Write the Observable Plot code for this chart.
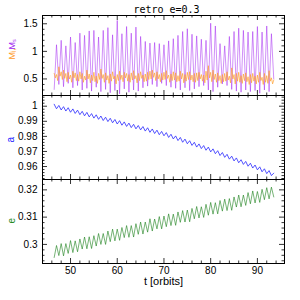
<!DOCTYPE html>
<html><head><meta charset="utf-8">
<script src="https://cdn.jsdelivr.net/npm/d3@7"></script>
<script src="https://cdn.jsdelivr.net/npm/@observablehq/plot@0.6"></script>
<style>
body{margin:0;background:#fff;}
#chart{position:relative;width:300px;height:300px;font-family:"Liberation Sans",Arial,sans-serif;}
#chart svg{position:absolute;left:0;overflow:visible;background:transparent;}
</style></head><body><div id="chart"></div>
<script>
// ---- data ----
const tHalf = [46.5,47,47.5,48,48.5,49,49.5,50,50.5,51,51.5,52,52.5,53,53.5,54,54.5,55,55.5,56,56.5,57,57.5,58,58.5,59,59.5,60,60.5,61,61.5,62,62.5,63,63.5,64,64.5,65,65.5,66,66.5,67,67.5,68,68.5,69,69.5,70,70.5,71,71.5,72,72.5,73,73.5,74,74.5,75,75.5,76,76.5,77,77.5,78,78.5,79,79.5,80,80.5,81,81.5,82,82.5,83,83.5,84,84.5,85,85.5,86,86.5,87,87.5,88,88.5,89,89.5,90,90.5,91,91.5,92,92.5,93,93.5];
const tQuarter = [46.5,46.75,47,47.25,47.5,47.75,48,48.25,48.5,48.75,49,49.25,49.5,49.75,50,50.25,50.5,50.75,51,51.25,51.5,51.75,52,52.25,52.5,52.75,53,53.25,53.5,53.75,54,54.25,54.5,54.75,55,55.25,55.5,55.75,56,56.25,56.5,56.75,57,57.25,57.5,57.75,58,58.25,58.5,58.75,59,59.25,59.5,59.75,60,60.25,60.5,60.75,61,61.25,61.5,61.75,62,62.25,62.5,62.75,63,63.25,63.5,63.75,64,64.25,64.5,64.75,65,65.25,65.5,65.75,66,66.25,66.5,66.75,67,67.25,67.5,67.75,68,68.25,68.5,68.75,69,69.25,69.5,69.75,70,70.25,70.5,70.75,71,71.25,71.5,71.75,72,72.25,72.5,72.75,73,73.25,73.5,73.75,74,74.25,74.5,74.75,75,75.25,75.5,75.75,76,76.25,76.5,76.75,77,77.25,77.5,77.75,78,78.25,78.5,78.75,79,79.25,79.5,79.75,80,80.25,80.5,80.75,81,81.25,81.5,81.75,82,82.25,82.5,82.75,83,83.25,83.5,83.75,84,84.25,84.5,84.75,85,85.25,85.5,85.75,86,86.25,86.5,86.75,87,87.25,87.5,87.75,88,88.25,88.5,88.75,89,89.25,89.5,89.75,90,90.25,90.5,90.75,91,91.25,91.5,91.75,92,92.25,92.5,92.75,93,93.25,93.5];
const Ms = [0.31,1.12,0.40,1.20,0.36,1.10,0.42,1.26,0.34,1.16,0.38,1.33,0.30,1.29,0.33,1.37,0.28,1.38,0.35,1.26,0.27,1.38,0.31,1.43,0.25,1.30,0.29,1.56,0.23,1.32,0.32,1.45,0.26,1.33,0.30,1.44,0.28,1.27,0.34,1.18,0.37,1.15,0.40,1.16,0.36,1.14,0.42,1.12,0.38,1.19,0.35,1.23,0.33,1.29,0.30,1.36,0.34,1.41,0.29,1.31,0.32,1.28,0.36,1.22,0.38,1.20,0.30,1.51,0.27,1.46,0.35,1.14,0.41,1.10,0.38,1.27,0.31,1.36,0.28,1.42,0.26,1.38,0.30,1.35,0.27,1.36,0.29,1.45,0.24,1.35,0.30,1.46,0.27,1.32,0.50];
const Mi = [0.60,0.52,0.58,0.47, 0.72,0.55,0.63,0.49, 0.66,0.51,0.60,0.45, 0.62,0.50,0.57,0.44, 0.64,0.52,0.61,0.47, 0.58,0.46,0.63,0.50, 0.60,0.44,0.55,0.48, 0.66,0.50,0.59,0.43, 0.57,0.47,0.62,0.45, 0.55,0.42,0.60,0.49, 0.68,0.51,0.58,0.44, 0.61,0.48,0.56,0.42, 0.59,0.46,0.63,0.50, 0.55,0.41,0.58,0.47, 0.64,0.49,0.57,0.45, 0.62,0.52,0.60,0.46, 0.58,0.44,0.61,0.48, 0.65,0.50,0.56,0.43, 0.60,0.47,0.63,0.51, 0.57,0.45,0.59,0.46, 0.62,0.49,0.64,0.50, 0.66,0.53,0.61,0.47, 0.63,0.50,0.58,0.45, 0.60,0.48,0.62,0.49, 0.65,0.51,0.57,0.44, 0.59,0.47,0.63,0.48, 0.61,0.45,0.56,0.46, 0.64,0.50,0.60,0.43, 0.58,0.46,0.62,0.49, 0.63,0.48,0.57,0.45, 0.60,0.44,0.61,0.47, 0.62,0.50,0.58,0.46, 0.57,0.43,0.64,0.48, 0.74,0.52,0.62,0.45, 0.66,0.49,0.59,0.44, 0.61,0.47,0.56,0.42, 0.58,0.45,0.60,0.46, 0.63,0.48,0.55,0.43, 0.70,0.50,0.58,0.41, 0.60,0.46,0.62,0.44, 0.56,0.42,0.59,0.47, 0.61,0.45,0.54,0.40, 0.58,0.43,0.60,0.46, 0.55,0.41,0.57,0.44, 0.62,0.47,0.53,0.40, 0.60,0.44,0.56,0.42, 0.65,0.46,0.52,0.41, 0.48];
const aVals = [1.0013,0.9983,1.0005,0.9975,0.9997,0.9968,0.9990,0.9960,0.9982,0.9952,0.9974,0.9944,0.9966,0.9936,0.9959,0.9929,0.9951,0.9921,0.9943,0.9913,0.9935,0.9905,0.9927,0.9898,0.9920,0.9890,0.9912,0.9882,0.9904,0.9874,0.9896,0.9866,0.9888,0.9858,0.9880,0.9850,0.9872,0.9843,0.9865,0.9835,0.9857,0.9827,0.9849,0.9819,0.9841,0.9811,0.9833,0.9804,0.9825,0.9793,0.9814,0.9783,0.9803,0.9772,0.9793,0.9761,0.9782,0.9751,0.9771,0.9740,0.9761,0.9729,0.9750,0.9719,0.9739,0.9708,0.9729,0.9697,0.9717,0.9685,0.9705,0.9673,0.9693,0.9661,0.9681,0.9649,0.9669,0.9637,0.9657,0.9625,0.9645,0.9614,0.9634,0.9602,0.9622,0.9590,0.9610,0.9578,0.9598,0.9565,0.9585,0.9553,0.9573,0.9540,0.9556];
const eVals = [0.2952,0.2996,0.2959,0.3003,0.2958,0.3003,0.2967,0.3014,0.2970,0.3013,0.2973,0.3020,0.2983,0.3027,0.2984,0.3028,0.2985,0.3032,0.2994,0.3040,0.3000,0.3040,0.3000,0.3049,0.3010,0.3056,0.3013,0.3056,0.3015,0.3062,0.3025,0.3069,0.3026,0.3069,0.3027,0.3076,0.3037,0.3082,0.3038,0.3082,0.3045,0.3094,0.3049,0.3093,0.3057,0.3102,0.3057,0.3104,0.3065,0.3112,0.3069,0.3111,0.3070,0.3119,0.3081,0.3124,0.3082,0.3126,0.3083,0.3132,0.3094,0.3139,0.3097,0.3138,0.3099,0.3147,0.3107,0.3154,0.3111,0.3153,0.3112,0.3161,0.3122,0.3166,0.3124,0.3168,0.3125,0.3174,0.3137,0.3181,0.3138,0.3181,0.3143,0.3190,0.3149,0.3196,0.3152,0.3194,0.3154,0.3202,0.3164,0.3208,0.3167,0.3210,0.3174];

// tick values
const xMajorTicks = [50,60,70,80,90];
const xMinorTicks = [46,48,52,54,56,58,62,64,66,68,72,74,76,78,82,84,86,88,92,94];
const y1Major = [0.5,1,1.5];
const y1Minor = [0.3,0.4,0.6,0.7,0.8,0.9,1.1,1.2,1.3,1.4,1.6];
const y2Major = [0.96,0.97,0.98,0.99,1];
const y2Minor = [0.952,0.954,0.956,0.958,0.962,0.964,0.966,0.968,0.972,0.974,0.976,0.978,0.982,0.984,0.986,0.988,0.992,0.994,0.996,0.998,1.002,1.004,1.006];
const y3Major = [0.3,0.31,0.32];
const y3Minor = [0.294,0.296,0.298,0.302,0.304,0.306,0.308,0.312,0.314,0.316,0.318,0.322,0.324];

const title = "retro e=0.3";
const xLabel = "t [orbits]";

// ---- tables ----
const zip = (ts, vs) => vs.slice(0, Math.min(ts.length, vs.length)).map((v, i) => ({t: ts[i], v}));
const dMs = zip(tHalf, Ms), dMi = zip(tQuarter, Mi), dA = zip(tHalf, aVals), dE = zip(tHalf, eVals);

// ---- layout ----
const W = 300, ML = 42, MR = 16, FW = W - ML - MR;
const MAJ = 5, MIN = 2.5;
const xDomain = [44, 95.8];
const fmt = d3.format("~g");
const tickStyle = {stroke: "black", strokeWidth: 0.8};

function frameTicks(H, yMajor, yMinor) {
  return [
    Plot.ruleX(xMinorTicks, {x: d => d, insetTop: H - MIN, ...tickStyle}),
    Plot.ruleX(xMinorTicks, {x: d => d, insetBottom: H - MIN, ...tickStyle}),
    Plot.ruleX(xMajorTicks, {x: d => d, insetTop: H - MAJ, ...tickStyle}),
    Plot.ruleX(xMajorTicks, {x: d => d, insetBottom: H - MAJ, ...tickStyle}),
    Plot.ruleY(yMinor, {y: d => d, insetRight: FW - MIN, ...tickStyle}),
    Plot.ruleY(yMinor, {y: d => d, insetLeft: FW - MIN, ...tickStyle}),
    Plot.ruleY(yMajor, {y: d => d, insetRight: FW - MAJ, ...tickStyle}),
    Plot.ruleY(yMajor, {y: d => d, insetLeft: FW - MAJ, ...tickStyle}),
    Plot.axisY(yMajor, {anchor: "left", tickSize: 0, tickPadding: 5, tickFormat: fmt, label: null, fontSize: 10}),
    Plot.frame({stroke: "black", strokeWidth: 1})
  ];
}

function place(svg, top) {
  svg.style.top = top + "px";
  document.getElementById("chart").appendChild(svg);
}

// panel 1
const H1 = 80;
place(Plot.plot({
  width: W, height: 95, marginTop: 15, marginBottom: 0, marginLeft: ML, marginRight: MR,
  style: {background: "transparent", overflow: "visible", fontFamily: "Liberation Sans, Arial, sans-serif"},
  x: {domain: xDomain, axis: null},
  y: {domain: [0.2, 1.65]},
  marks: [
    Plot.line(dMs, {x: "t", y: "v", stroke: "#a020f0", strokeWidth: 0.5}),
    Plot.line(dMi, {x: "t", y: "v", stroke: "#ffa030", strokeWidth: 0.7}),
    ...frameTicks(H1, y1Major, y1Minor),
    Plot.text([title], {text: d => d, frameAnchor: "top", dy: -10, dx: 3, fontFamily: "DejaVu Sans Mono", fontSize: 10}),
    Plot.text(["M\u1D62,"], {text: d => d, frameAnchor: "left", dx: -30, dy: 4, rotate: -90, fill: "#ff9a1f", fontSize: 9}),
    Plot.text(["M\u209B"], {text: d => d, frameAnchor: "left", dx: -30, dy: -6, rotate: -90, fill: "#a020f0", fontSize: 9})
  ]
}), 0);

// panel 2
const H2 = 84;
place(Plot.plot({
  width: W, height: 84, marginTop: 0, marginBottom: 0, marginLeft: ML, marginRight: MR,
  style: {background: "transparent", overflow: "visible", fontFamily: "Liberation Sans, Arial, sans-serif"},
  x: {domain: xDomain, axis: null},
  y: {domain: [0.9514, 1.0071]},
  marks: [
    Plot.line(dA, {x: "t", y: "v", stroke: "#2a2aff", strokeWidth: 0.8}),
    ...frameTicks(H2, y2Major, y2Minor),
    Plot.text(["a"], {text: d => d, frameAnchor: "left", dx: -32, dy: 5, rotate: -90, fill: "#1a1aff", fontSize: 10})
  ]
}), 95);

// panel 3
const H3 = 84;
place(Plot.plot({
  width: W, height: 121, marginTop: 0, marginBottom: 37, marginLeft: ML, marginRight: MR,
  style: {background: "transparent", overflow: "visible", fontFamily: "Liberation Sans, Arial, sans-serif"},
  x: {domain: xDomain},
  y: {domain: [0.293, 0.3238]},
  marks: [
    Plot.line(dE, {x: "t", y: "v", stroke: "#1a7f1a", strokeWidth: 0.6}),
    ...frameTicks(H3, y3Major, y3Minor),
    Plot.axisX(xMajorTicks, {anchor: "bottom", tickSize: 0, tickPadding: 3, label: null, fontSize: 10}),
    Plot.text([xLabel], {text: d => d, frameAnchor: "bottom", dy: 21, fontSize: 11}),
    Plot.text(["e"], {text: d => d, frameAnchor: "left", dx: -31, dy: 2, rotate: -90, fill: "#1f8a1f", fontSize: 10})
  ]
}), 179);
</script></body></html>
